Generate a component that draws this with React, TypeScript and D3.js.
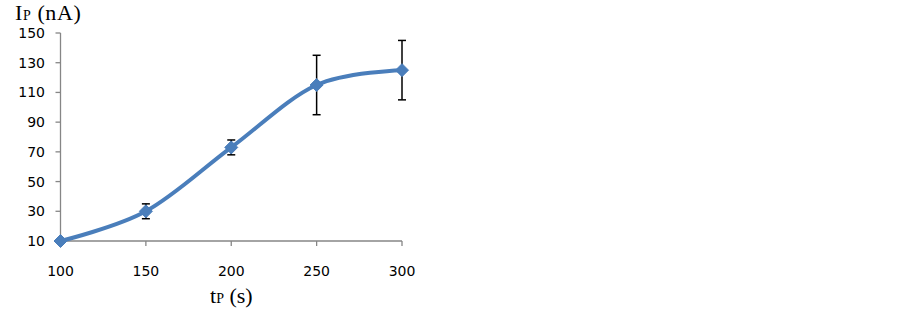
import React from 'react';
import * as d3 from 'd3';

const tP = [100, 150, 200, 250, 300];
const iP = [10, 30, 73, 115, 125];
const errs = [0, 5, 5, 20, 20];
const xTicks = [100, 150, 200, 250, 300];
const yTicks = [10, 30, 50, 70, 90, 110, 130, 150];

export default function App() {
  const x = d3.scaleLinear().domain([100, 300]).range([60.5, 402]);
  const y = d3.scaleLinear().domain([10, 150]).range([241, 33]);
  const data = tP.map((t, i) => ({ t, v: iP[i], e: errs[i] }));
  const line = d3
    .line<{ t: number; v: number }>()
    .x((d) => x(d.t))
    .y((d) => y(d.v))
    .curve(d3.curveCardinal.tension(0));
  const axisColor = '#868686';
  const blue = '#4a7ebb';
  const tickFont = 'DejaVu Sans, sans-serif';
  const serif = 'Liberation Serif, Times New Roman, serif';
  return (
    <svg width={902} height={312} style={{ position: 'absolute', left: 0, top: 0, background: '#fff' }}>
      {/* y axis */}
      <line x1={x(100)} x2={x(100)} y1={y(150)} y2={y(10)} stroke={axisColor} strokeWidth={1.3} />
      {yTicks.map((t) => (
        <g key={'y' + t}>
          <line x1={x(100) - 5} x2={x(100)} y1={y(t)} y2={y(t)} stroke={axisColor} strokeWidth={1.3} />
          <text x={45} y={y(t)} dy="0.36em" textAnchor="end" fontFamily={tickFont} fontSize={14} fill="#000">
            {t}
          </text>
        </g>
      ))}
      {/* x axis */}
      <line x1={x(100)} x2={x(300)} y1={y(10)} y2={y(10)} stroke={axisColor} strokeWidth={1.3} />
      {xTicks.map((t) => (
        <g key={'x' + t}>
          <line x1={x(t)} x2={x(t)} y1={y(10)} y2={y(10) + 5} stroke={axisColor} strokeWidth={1.3} />
          <text x={x(t)} y={271} dy="0.36em" textAnchor="middle" fontFamily={tickFont} fontSize={14} fill="#000">
            {t}
          </text>
        </g>
      ))}
      {/* axis titles */}
      <text x={15} y={20} fontFamily={serif} fontSize={22} letterSpacing={0.6} fill="#000">
        I<tspan fontSize={14}>P</tspan> (nA)
      </text>
      <text x={210} y={303} fontFamily={serif} fontSize={22} fill="#000">
        t<tspan fontSize={14}>P</tspan> (s)
      </text>
      {/* line */}
      <path d={line(data) || ''} fill="none" stroke={blue} strokeWidth={4} strokeLinecap="round" />
      {/* error bars */}
      {data
        .filter((d) => d.e > 0)
        .map((d) => (
          <g key={'e' + d.t} stroke="#000" strokeWidth={1.5}>
            <line x1={x(d.t)} x2={x(d.t)} y1={y(d.v + d.e)} y2={y(d.v - d.e)} />
            <line x1={x(d.t) - 4} x2={x(d.t) + 4} y1={y(d.v + d.e)} y2={y(d.v + d.e)} />
            <line x1={x(d.t) - 4} x2={x(d.t) + 4} y1={y(d.v - d.e)} y2={y(d.v - d.e)} />
          </g>
        ))}
      {/* markers */}
      {data.map((d) => {
        const cx = x(d.t);
        const cy = y(d.v);
        const r = 6.5;
        return (
          <path
            key={'m' + d.t}
            d={`M${cx},${cy - r}L${cx + r},${cy}L${cx},${cy + r}L${cx - r},${cy}Z`}
            fill={blue}
            stroke={blue}
            strokeWidth={1}
          />
        );
      })}
    </svg>
  );
}
